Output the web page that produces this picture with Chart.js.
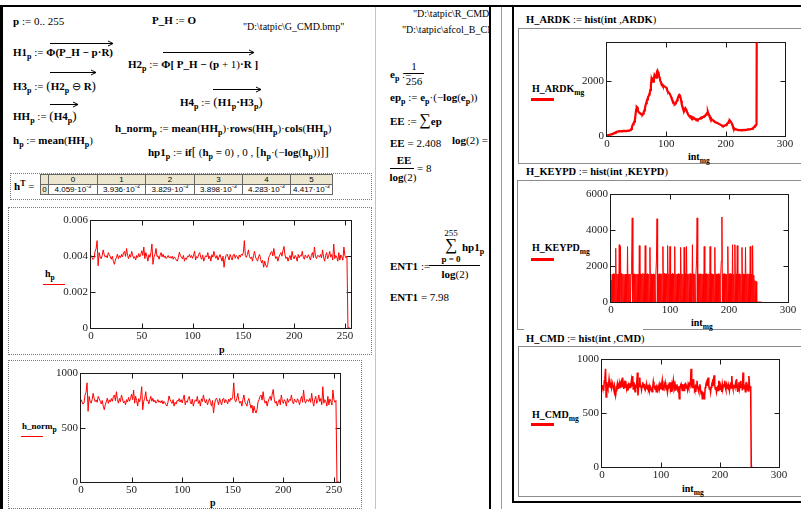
<!DOCTYPE html>
<html><head><meta charset="utf-8">
<script src="https://cdn.jsdelivr.net/npm/chart.js@4/dist/chart.umd.min.js"></script>
<style>
html,body{margin:0;padding:0;background:#fff}
#page{position:relative;width:801px;height:509px;overflow:hidden;background:#fff}
.t{position:absolute;white-space:nowrap;font-family:'Liberation Serif',serif;font-size:11px;line-height:12px;transform:translateY(-50%);color:#000}
.c{transform:translate(-50%,-50%)}
.t b{font-weight:bold}
.lg{font-size:10px}
.ti{font-size:10.5px}
sub{font-size:8px;vertical-align:-3px;line-height:0}
.lg sub{font-size:7.5px}
sup{font-size:6px;vertical-align:4px;line-height:0}
.ln{position:absolute;background:#000}
.dot{position:absolute;border:1px dotted #7a7a7a;box-sizing:border-box}
.box{position:absolute;border:1px solid #8c8c8c;box-sizing:border-box}
canvas{position:absolute}
.leg{position:absolute;background:#ff0000}
#tbl{position:absolute;left:40px;top:174px;border-collapse:collapse;font-family:'Liberation Sans',sans-serif;font-size:8px;table-layout:fixed}
#tbl td{border:1px solid #666;padding:0;text-align:center;height:9px;line-height:9px;overflow:hidden;white-space:nowrap}
#tbl td.h{background:#ece6cf}
.clip{position:absolute;overflow:hidden}
</style></head><body><div id="page">

<!-- frame lines -->
<div class="ln" style="left:0;top:5px;width:801px;height:2px"></div>
<div class="ln" style="left:0;top:5px;width:3px;height:504px"></div>
<div class="ln" style="left:375px;top:7px;width:1px;height:502px;background:#c4c4c4"></div>
<div class="ln" style="left:489px;top:5px;width:2px;height:504px"></div>
<div class="ln" style="left:501px;top:7px;width:1px;height:502px;background:#9a9a9a"></div>
<div class="ln" style="left:512px;top:5px;width:2px;height:498px"></div>
<div class="ln" style="left:512px;top:501px;width:289px;height:2px"></div>

<!-- region boxes on the right -->
<div class="box" style="left:518px;top:28px;width:300px;height:136px"></div>
<div class="ln" style="left:517px;top:180px;width:300px;height:1px;background:#8c8c8c"></div>
<div class="ln" style="left:517px;top:180px;width:1px;height:150px;background:#8c8c8c"></div>
<div class="ln" style="left:517px;top:329px;width:7px;height:1px;background:#8c8c8c"></div>
<div class="ln" style="left:643px;top:329px;width:170px;height:1px;background:#8c8c8c"></div>
<div class="box" style="left:518px;top:346px;width:300px;height:151px"></div>

<!-- dotted regions on the left -->
<div class="dot" style="left:10px;top:173px;width:362px;height:27px"></div>
<div class="dot" style="left:8px;top:207px;width:364px;height:148px"></div>
<div class="dot" style="left:8px;top:360px;width:354px;height:149px"></div>

<!-- left column math -->
<div class="t" style="left:13px;top:21px"><b>p</b> := 0.. 255</div>
<div class="t" style="left:152px;top:20px"><b>P_H</b> := <b>O</b></div>
<div class="t" style="left:243px;top:27px;font-size:10px">"D:\tatpic\G_CMD.bmp"</div>
<div class="t" style="left:13px;top:52px"><b>H1<sub>p</sub></b> := <b>Φ(P_H − p·R)</b></div>
<div class="t" style="left:128px;top:64px"><b>H2<sub>p</sub></b> := <b>Φ[ P_H − (p</b> + 1)<b>·R ]</b></div>
<div class="t" style="left:13px;top:86px"><b>H3<sub>p</sub></b> := <span style="font-size:13px">(</span><b>H2<sub>p</sub></b> ⊖ <b>R</b><span style="font-size:13px">)</span></div>
<div class="t" style="left:180px;top:102px"><b>H4<sub>p</sub></b> := <span style="font-size:13px">(</span><b>H1<sub>p</sub>·H3<sub>p</sub></b><span style="font-size:13px">)</span></div>
<div class="t" style="left:13px;top:116px"><b>HH<sub>p</sub></b> := <span style="font-size:13px">(</span><b>H4<sub>p</sub></b><span style="font-size:13px">)</span></div>
<div class="t" style="left:115px;top:128px"><b>h_norm<sub>p</sub></b> := <b>mean</b>(<b>HH<sub>p</sub></b>)·<b>rows</b>(<b>HH<sub>p</sub></b>)·<b>cols</b>(<b>HH<sub>p</sub></b>)</div>
<div class="t" style="left:13px;top:140px"><b>h<sub>p</sub></b> := <b>mean</b>(<b>HH<sub>p</sub></b>)</div>
<div class="t" style="left:148px;top:152px"><b>hp1<sub>p</sub></b> := <b>if</b><span style="font-size:13px">[</span> (<b>h<sub>p</sub></b> <b>=</b> 0) , 0 , <span style="font-size:13px">[</span><b>h<sub>p</sub></b>·(−<b>log</b>(<b>h<sub>p</sub></b>))<span style="font-size:13px">]]</span></div>
<div class="t" style="left:14px;top:186px"><b>h</b><sup style="font-size:8px;font-weight:bold">T</sup> =</div>
<table id="tbl"><tbody id="tb"></tbody></table>

<!-- middle column -->
<div class="clip" style="left:376px;top:0;width:113px;height:509px">
  <div class="t" style="left:37px;top:14px;font-size:10px">"D:\tatpic\R_CMD.bmp"</div>
  <div class="t" style="left:26px;top:30px;font-size:10px">"D:\tatpic\afcol_B_CMD.bmp"</div>
</div>
<div class="t" style="left:390px;top:74px"><b>e<sub>p</sub></b> :=</div>
<div class="t c" style="left:414px;top:66px">1</div>
<div class="ln" style="left:404px;top:73px;width:20px;height:1px"></div>
<div class="t c" style="left:414px;top:81px">256</div>
<div class="t" style="left:390px;top:97px"><b>ep<sub>p</sub></b> := <b>e<sub>p</sub></b>·(−<b>log</b>(<b>e<sub>p</sub></b>))</div>
<div class="t" style="left:390px;top:120px"><b>EE</b> := <span style="font-size:16px">∑</span><b>ep</b></div>
<div class="t" style="left:390px;top:143px"><b>EE</b> = 2.408</div>
<div class="t" style="left:452px;top:140px"><b>log</b>(2) =</div>
<div class="t c" style="left:404px;top:160px"><b>EE</b></div>
<div class="ln" style="left:390px;top:168px;width:24px;height:1px"></div>
<div class="t c" style="left:403px;top:177px"><b>log</b>(2)</div>
<div class="t" style="left:417px;top:168px">= 8</div>
<div class="t c" style="left:451px;top:233px;font-size:9px">255</div>
<div class="t c" style="left:451px;top:244px;font-size:17px;line-height:17px">∑</div>
<div class="t" style="left:462px;top:247px"><b>hp1<sub>p</sub></b></div>
<div class="t c" style="left:451px;top:259px;font-size:9px"><b>p = 0</b></div>
<div class="t" style="left:390px;top:266px"><b>ENT1</b> :=</div>
<div class="ln" style="left:429px;top:265px;width:51px;height:1px"></div>
<div class="t c" style="left:455px;top:274px"><b>log</b>(2)</div>
<div class="t" style="left:390px;top:297px"><b>ENT1</b> = 7.98</div>

<!-- right column titles and labels -->
<div class="t ti" style="left:526px;top:20px"><b>H_ARDK</b> := <b>hist</b>(<b>int</b> ,<b>ARDK</b>)</div>
<div class="t lg" style="left:532px;top:89px"><b>H_ARDK<sub>mg</sub></b></div>
<div class="leg" style="left:531px;top:98px;width:23px;height:3px"></div>
<div class="t lg" style="left:688px;top:157px"><b>int<sub>mg</sub></b></div>

<div class="t ti" style="left:526px;top:172px"><b>H_KEYPD</b> := <b>hist</b>(<b>int</b> ,<b>KEYPD</b>)</div>
<div class="t lg" style="left:532px;top:248px"><b>H_KEYPD<sub>mg</sub></b></div>
<div class="leg" style="left:531px;top:258px;width:23px;height:3px"></div>
<div class="t lg" style="left:691px;top:323px"><b>int<sub>mg</sub></b></div>

<div class="t ti" style="left:526px;top:339px"><b>H_CMD</b> := <b>hist</b>(<b>int</b> ,<b>CMD</b>)</div>
<div class="t lg" style="left:532px;top:415px"><b>H_CMD<sub>mg</sub></b></div>
<div class="leg" style="left:531px;top:423px;width:23px;height:3px"></div>
<div class="t lg" style="left:682px;top:489px"><b>int<sub>mg</sub></b></div>

<!-- left plot labels -->
<div class="t lg" style="left:45px;top:274px"><b>h<sub>p</sub></b></div>
<div class="leg" style="left:43px;top:284px;width:22px;height:1px"></div>
<div class="t lg" style="left:219px;top:350px"><b>p</b></div>
<div class="t lg" style="left:22px;top:426px;font-size:9px"><b>h_norm<sub>p</sub></b></div>
<div class="leg" style="left:21px;top:436px;width:22px;height:1px"></div>
<div class="t lg" style="left:210px;top:503px"><b>p</b></div>

<canvas id="cHp"></canvas>
<canvas id="cNorm"></canvas>
<canvas id="cArdk"></canvas>
<canvas id="cKey"></canvas>
<canvas id="cCmd"></canvas>
<div id="arrows"></div>
</div>
<script>
// ---- data ----
const cmdHist = [
761,738,718,731,803,828,915,652,790,745,727,760,818,770,742,757,
735,790,768,745,720,752,700,667,712,740,773,725,758,738,770,745,
790,803,750,833,760,727,770,742,803,765,730,748,712,760,738,780,
745,770,810,760,848,727,790,752,700,768,740,790,879,667,745,772,
833,748,757,720,760,790,745,773,738,755,727,742,760,735,748,730,
752,720,745,730,712,700,738,794,760,742,725,760,700,735,718,752,
745,770,738,760,730,765,803,712,748,735,770,790,742,720,765,700,
735,758,745,790,725,752,700,768,742,803,755,730,760,712,742,770,
735,700,752,636,720,760,773,745,712,770,740,712,765,773,730,760,
748,720,765,742,773,760,790,915,757,740,770,818,752,727,745,700,
760,803,742,720,700,750,770,720,680,710,636,700,660,636,667,740,
760,790,803,755,833,760,727,748,700,742,770,790,752,810,854,765,
727,745,700,735,760,712,803,745,725,760,742,700,770,735,760,752,
803,742,720,765,742,735,768,745,712,760,790,735,848,752,727,760,
757,742,770,735,818,745,700,760,790,725,752,803,742,770,712,879,
727,760,742,700,790,712,765,745,710,848,757,735,752,0,0,0];

const hp = [
4.059e-3,3.936e-3,3.829e-3,3.898e-3,4.283e-3,4.417e-3,4.880e-3,3.477e-3,4.213e-3,3.973e-3,3.877e-3,4.053e-3,4.363e-3,4.107e-3,3.957e-3,4.037e-3,
3.920e-3,4.213e-3,4.096e-3,3.973e-3,3.840e-3,4.011e-3,3.733e-3,3.557e-3,3.797e-3,3.947e-3,4.123e-3,3.867e-3,4.043e-3,3.936e-3,4.107e-3,3.973e-3,
4.213e-3,4.283e-3,4.000e-3,4.443e-3,4.053e-3,3.877e-3,4.107e-3,3.957e-3,4.283e-3,4.080e-3,3.893e-3,3.989e-3,3.797e-3,4.053e-3,3.936e-3,4.160e-3,
3.973e-3,4.107e-3,4.320e-3,4.053e-3,4.523e-3,3.877e-3,4.213e-3,4.011e-3,3.733e-3,4.096e-3,3.947e-3,4.213e-3,4.688e-3,3.557e-3,3.973e-3,4.117e-3,
4.443e-3,3.989e-3,4.037e-3,3.840e-3,4.053e-3,4.213e-3,3.973e-3,4.123e-3,3.936e-3,4.027e-3,3.877e-3,3.957e-3,4.053e-3,3.920e-3,3.989e-3,3.893e-3,
4.011e-3,3.840e-3,3.973e-3,3.893e-3,3.797e-3,3.733e-3,3.936e-3,4.235e-3,4.053e-3,3.957e-3,3.867e-3,4.053e-3,3.733e-3,3.920e-3,3.829e-3,4.011e-3,
3.973e-3,4.107e-3,3.936e-3,4.053e-3,3.893e-3,4.080e-3,4.283e-3,3.797e-3,3.989e-3,3.920e-3,4.107e-3,4.213e-3,3.957e-3,3.840e-3,4.080e-3,3.733e-3,
3.920e-3,4.043e-3,3.973e-3,4.213e-3,3.867e-3,4.011e-3,3.733e-3,4.096e-3,3.957e-3,4.283e-3,4.027e-3,3.893e-3,4.053e-3,3.797e-3,3.957e-3,4.107e-3,
3.920e-3,3.733e-3,4.011e-3,3.392e-3,3.840e-3,4.053e-3,4.123e-3,3.973e-3,3.797e-3,4.107e-3,3.947e-3,3.797e-3,4.080e-3,4.123e-3,3.893e-3,4.053e-3,
3.989e-3,3.840e-3,4.080e-3,3.957e-3,4.123e-3,4.053e-3,4.213e-3,4.880e-3,4.037e-3,3.947e-3,4.107e-3,4.363e-3,4.011e-3,3.877e-3,3.973e-3,3.733e-3,
4.053e-3,4.283e-3,3.957e-3,3.840e-3,3.733e-3,4.000e-3,4.107e-3,3.840e-3,3.627e-3,3.787e-3,3.392e-3,3.733e-3,3.520e-3,3.392e-3,3.557e-3,3.947e-3,
4.053e-3,4.213e-3,4.283e-3,4.027e-3,4.443e-3,4.053e-3,3.877e-3,3.989e-3,3.733e-3,3.957e-3,4.107e-3,4.213e-3,4.011e-3,4.320e-3,4.555e-3,4.080e-3,
3.877e-3,3.973e-3,3.733e-3,3.920e-3,4.053e-3,3.797e-3,4.283e-3,3.973e-3,3.867e-3,4.053e-3,3.957e-3,3.733e-3,4.107e-3,3.920e-3,4.053e-3,4.011e-3,
4.283e-3,3.957e-3,3.840e-3,4.080e-3,3.957e-3,3.920e-3,4.096e-3,3.973e-3,3.797e-3,4.053e-3,4.213e-3,3.920e-3,4.523e-3,4.011e-3,3.877e-3,4.053e-3,
4.037e-3,3.957e-3,4.107e-3,3.920e-3,4.363e-3,3.973e-3,3.733e-3,4.053e-3,4.213e-3,3.867e-3,4.011e-3,4.283e-3,3.957e-3,4.107e-3,3.797e-3,4.688e-3,
3.877e-3,4.053e-3,3.957e-3,3.733e-3,4.213e-3,3.797e-3,4.080e-3,3.973e-3,3.787e-3,4.523e-3,4.037e-3,3.920e-3,4.011e-3,0,0,0];

const ardkHist = [
20,25,30,35,45,50,55,60,70,75,85,95,105,115,125,140,
150,155,160,165,170,175,170,175,180,175,180,178,182,180,185,180,
185,190,185,190,195,200,205,210,225,260,320,390,430,470,520,580,
760,950,1060,1040,930,880,860,840,830,810,800,790,785,820,880,930,
1020,1120,1200,1290,1330,1420,1440,1510,1560,1680,1850,2080,2020,2140,1980,2100,
2220,2180,2250,2120,2320,2380,2330,2280,2150,2100,1990,1960,1870,1880,1830,1840,
1830,1800,1790,1785,1760,1700,1640,1600,1580,1550,1520,1480,1420,1360,1300,1280,
1220,1180,1165,1190,1220,1240,1300,1350,1420,1480,1500,1470,1400,1280,1150,1070,
1000,950,970,960,1010,980,940,860,820,770,770,720,725,690,700,665,
670,645,650,625,630,610,615,595,605,590,605,605,630,635,660,660,
680,680,695,700,720,725,760,775,820,840,880,810,770,705,690,645,
620,600,580,570,550,530,515,500,490,480,470,460,450,440,430,415,
400,390,375,360,365,370,380,385,390,410,440,465,480,520,560,570,
545,500,470,420,350,310,280,260,250,245,240,230,225,220,218,215,
215,212,215,212,215,218,215,220,218,222,225,228,230,235,238,240,
242,245,250,255,262,270,285,300,330,360,390,400,420,9000,9000,9000];

const keypdHist = [
1200,0,1550,0,1580,0,1560,0,3000,0,1570,0,1550,0,3200,0,
3100,0,1600,0,1560,0,1540,0,1550,0,1560,0,3100,0,1550,0,
1570,0,1550,2350,4700,0,1560,0,1580,0,1550,0,1570,0,1560,0,
3150,0,1580,0,1560,0,1600,0,1570,0,3150,0,1550,0,1590,0,
1560,0,3050,0,1570,0,1550,0,1580,0,1560,0,1550,2300,4650,0,
1560,0,1580,0,1550,0,1570,0,3100,0,1600,0,1560,0,1580,0,
3150,0,1570,0,3100,0,1550,0,1590,0,1560,0,3100,0,1570,0,
1550,0,1580,0,1560,0,3050,0,1570,0,1550,0,3050,0,1580,0,
3100,0,1560,0,1570,0,1590,0,1550,0,3200,0,1580,0,1560,0,
1550,2300,4700,0,1570,0,1560,0,1580,0,1550,0,1570,0,3100,0,
1560,0,1590,0,1550,0,1570,0,3100,0,1580,0,1560,0,1550,0,
3050,0,1570,0,1560,0,1580,0,1550,0,1560,2300,4750,0,1570,0,
1580,0,1560,0,1550,0,3100,0,1570,0,1590,0,1560,0,3200,0,
1550,0,3200,0,1570,0,3150,0,1560,0,1580,0,1550,0,3050,0,
1570,0,1560,0,3050,0,1550,0,1580,0,1560,0,3100,0,1570,0,
3150,0,1500,0,1200,0,1150,0,0,0,0,0,0,0,0,0];

const tableCols = ['0','1','2','3','4','5'];
const pTicks = [0,50,100,150,200,250];
const pLabels = ['0','50','100','150','200','250'];
const intTicks = [0,100,200,300];
const intLabels = ['0','100','200','300'];
const hpYTicks = [0,0.002,0.004,0.006];
const hpYLabels = ['0','0.002','0.004','0.006'];
const normYTicks = [0,500,1000];
const normYLabels = ['0','500','1000'];
const ardkYTicks = [0,2000];
const ardkYLabels = ['0','2000'];
const keypdYTicks = [0,2000,4000,6000];
const keypdYLabels = ['0','2000','4000','6000'];
const cmdYTicks = [0,500,1000];
const cmdYLabels = ['0','500','1000'];

// ---- table of h^T ----
(function(){
  const tb = document.getElementById('tb');
  const widths = [8,49,48,49,48,48,42];
  let r1 = '<tr><td class="h" style="width:'+(widths[0]-1)+'px"></td>';
  tableCols.forEach((c,i)=>{ r1 += '<td class="h" style="width:'+(widths[i+1]-1)+'px">'+c+'</td>'; });
  r1 += '</tr>';
  let r2 = '<tr><td class="h">0</td>';
  tableCols.forEach((c,i)=>{ r2 += '<td>'+(hp[i]*1000).toFixed(3)+'·10<sup>-3</sup></td>'; });
  r2 += '</tr>';
  tb.innerHTML = r1 + r2;
})();

// ---- over-arrows of vectorize operator ----
(function(){
  const specs = [[50,112,43],[163,253,52],[50,95,72],[213,260,89],[50,77,104]];
  const host = document.getElementById('arrows');
  specs.forEach(([x1,x2,y])=>{
    const w = x2-x1+2;
    host.insertAdjacentHTML('beforeend',
      '<svg style="position:absolute;left:'+x1+'px;top:'+(y-3)+'px" width="'+w+'" height="7">'+
      '<line x1="0" y1="3.5" x2="'+(w-1)+'" y2="3.5" stroke="#000" stroke-width="1"/>'+
      '<polyline points="'+(w-6)+',1 '+(w-1)+',3.5 '+(w-6)+',6" fill="none" stroke="#000" stroke-width="1"/></svg>');
  });
})();

// ---- charts ----
const FONT = 'Liberation Serif';
const framePlugin = {
  id: 'mcframe',
  beforeDatasetsDraw(chart){
    const {ctx, chartArea:a, scales:{x, y}} = chart;
    ctx.save();
    ctx.strokeStyle = '#1a1a1a';
    ctx.lineWidth = 1;
    const L = Math.round(a.left)-0.5, R = Math.round(a.right)+0.5, T = Math.round(a.top)-0.5, B = Math.round(a.bottom)+0.5;
    ctx.strokeRect(L, T, R-L, B-T);
    ctx.beginPath();
    x.ticks.forEach(t=>{
      if (t.value <= x.min || t.value >= x.max) return;
      const p = Math.round(x.getPixelForValue(t.value))+0.5;
      ctx.moveTo(p, B); ctx.lineTo(p, B-5);
      ctx.moveTo(p, T); ctx.lineTo(p, T+5);
    });
    y.ticks.forEach(t=>{
      if (t.value <= y.min || t.value >= y.max) return;
      const p = Math.round(y.getPixelForValue(t.value))+0.5;
      ctx.moveTo(L, p); ctx.lineTo(L+5, p);
      ctx.moveTo(R, p); ctx.lineTo(R-5, p);
    });
    ctx.stroke();
    ctx.restore();
  }
};

function plot(id, box, series, xr, xt, xl, yr, yt, yl, lw){
  const cv = document.getElementById(id);
  cv.width = box.w; cv.height = box.h;
  cv.style.left = box.left+'px'; cv.style.top = box.top+'px';
  cv.style.width = box.w+'px'; cv.style.height = box.h+'px';
  new Chart(cv, {
    type: 'line',
    data: { datasets: [{ data: series.map((v,i)=>({x:i, y:v})), borderColor:'#ff0000', borderWidth:lw, pointRadius:0, tension:0, fill:false }]},
    options: {
      responsive:false, animation:false, devicePixelRatio:1,
      layout:{ padding:{ left:0, top:box.pt, right:box.pr, bottom:0 } },
      plugins:{ legend:{display:false}, tooltip:{enabled:false} },
      scales:{
        x:{ type:'linear', min:xr[0], max:xr[1],
            afterBuildTicks:s=>{ s.ticks = xt.map(v=>({value:v})); },
            afterFit:s=>{ s.height = box.xh; },
            grid:{display:false, drawTicks:false}, border:{display:false},
            ticks:{ autoSkip:false, maxRotation:0, padding:2, color:'#222', font:{family:FONT, size:11}, callback:(v,i)=>xl[i] } },
        y:{ type:'linear', min:yr[0], max:yr[1],
            afterBuildTicks:s=>{ s.ticks = yt.map(v=>({value:v})); },
            afterFit:s=>{ s.width = box.yw; },
            grid:{display:false, drawTicks:false}, border:{display:false},
            ticks:{ autoSkip:false, padding:3, color:'#222', font:{family:FONT, size:11}, callback:(v,i)=>yl[i] } }
      }
    },
    plugins:[framePlugin]
  });
}

plot('cHp',   {left:31, top:211, w:330, h:131, pt:8, pr:10, yw:60, xh:14}, hp,        [0,256], pTicks, pLabels, [0,0.006], hpYTicks, hpYLabels, 1);
plot('cNorm', {left:31, top:364, w:319, h:132, pt:8, pr:10, yw:50, xh:14}, cmdHist,   [0,256], pTicks, pLabels, [0,1000], normYTicks, normYLabels, 1);
plot('cArdk', {left:557, top:33, w:240, h:117, pt:8, pr:12, yw:50, xh:14}, ardkHist,  [0,300], intTicks, intLabels, [0,3400], ardkYTicks, ardkYLabels, 2.2);
plot('cKey',  {left:561, top:185, w:239, h:131, pt:8, pr:12, yw:50, xh:14}, keypdHist, [0,300], intTicks, intLabels, [0,6000], keypdYTicks, keypdYLabels, 1);
plot('cCmd',  {left:552, top:350, w:239, h:131, pt:8, pr:12, yw:50, xh:14}, cmdHist,   [0,300], intTicks, intLabels, [0,1000], cmdYTicks, cmdYLabels, 1.6);
</script>
</body></html>
